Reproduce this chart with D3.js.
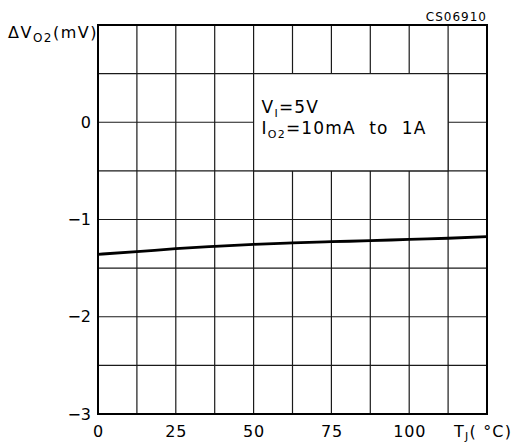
<!DOCTYPE html>
<html>
<head>
<meta charset="utf-8">
<script src="https://cdn.jsdelivr.net/npm/d3@7"></script>
<style>
  html, body { margin: 0; padding: 0; background: #fff; }
  svg text { font-family: "DejaVu Sans", sans-serif; fill: #000; white-space: pre; }
</style>
</head>
<body>
<svg id="chart" width="522" height="443"></svg>
<script>
// Junction temperature (°C) and output voltage change (mV)
const tempC = [0, 12.5, 25, 37.5, 50, 62.5, 75, 87.5, 100, 112.5, 125];
const deltaVo2 = [-1.358, -1.331, -1.300, -1.276, -1.255, -1.240, -1.228, -1.218, -1.204, -1.193, -1.177];

const xTickLabels = [0, 25, 50, 75, 100];
const yTickLabels = [0, -1, -2, -3];
const xGridValues = d3.range(0, 125.01, 12.5);
const yGridValues = d3.range(-3, 1.01, 0.5);

const svg = d3.select("#chart");
const plotLeft = 98, plotRight = 487, plotTop = 25, plotBottom = 414;

const x = d3.scaleLinear().domain([0, 125]).range([plotLeft, plotRight]);
const y = d3.scaleLinear().domain([-3, 1]).range([plotBottom, plotTop]);

// grid
const grid = svg.append("g").attr("stroke", "#1a1a1a").attr("stroke-width", 1.2);
grid.selectAll("line.v").data(xGridValues).join("line")
  .attr("x1", d => x(d)).attr("x2", d => x(d))
  .attr("y1", plotTop).attr("y2", plotBottom);
grid.selectAll("line.h").data(yGridValues).join("line")
  .attr("x1", plotLeft).attr("x2", plotRight)
  .attr("y1", d => y(d)).attr("y2", d => y(d));

// condition box blanks out the grid inside it
const box = svg.append("g");
box.append("rect")
  .attr("x", x(50)).attr("y", y(0.5))
  .attr("width", x(112.5) - x(50)).attr("height", y(-0.5) - y(0.5))
  .attr("fill", "#fff").attr("stroke", "#1a1a1a").attr("stroke-width", 1.2);

const t1 = box.append("text").attr("x", x(50) + 8).attr("y", 113)
  .attr("font-size", 17).attr("letter-spacing", 1.2);
t1.append("tspan").text("V");
t1.append("tspan").attr("font-size", 11).attr("dy", 4).text("I");
t1.append("tspan").attr("dy", -4).text("=5V");

const t2 = box.append("text").attr("x", x(50) + 8).attr("y", 134)
  .attr("font-size", 17).attr("letter-spacing", 1.2);
t2.append("tspan").text("I");
t2.append("tspan").attr("font-size", 11).attr("dy", 4).text("O2");
t2.append("tspan").attr("dy", -4).text("=10mA  to  1A");

// frame
svg.append("rect")
  .attr("x", plotLeft).attr("y", plotTop)
  .attr("width", plotRight - plotLeft).attr("height", plotBottom - plotTop)
  .attr("fill", "none").attr("stroke", "#000").attr("stroke-width", 2);

// curve
const line = d3.line().x((d, i) => x(tempC[i])).y(d => y(d)).curve(d3.curveMonotoneX);
svg.append("path")
  .datum(deltaVo2)
  .attr("d", line)
  .attr("fill", "none").attr("stroke", "#000").attr("stroke-width", 2.8);

// axes (labels only; the grid already provides the lines)
const xAxis = d3.axisBottom(x).tickValues(xTickLabels).tickSize(0).tickPadding(12).tickFormat(d3.format("d"));
const gx = svg.append("g").attr("transform", `translate(0,${plotBottom})`).call(xAxis);
gx.select(".domain").remove();
gx.selectAll("text").attr("font-size", 16).attr("font-family", "DejaVu Sans")
  .attr("letter-spacing", 0.8).attr("fill", "#000");

const yAxis = d3.axisLeft(y).tickValues(yTickLabels).tickSize(0).tickPadding(7)
  .tickFormat(d => d < 0 ? "\u2212" + Math.abs(d) : String(d));
const gy = svg.append("g").attr("transform", `translate(${plotLeft},0)`).call(yAxis);
gy.select(".domain").remove();
gy.selectAll("text").attr("font-size", 16).attr("font-family", "DejaVu Sans").attr("fill", "#000");

// axis titles
const yt = svg.append("text").attr("x", 8).attr("y", 38).attr("font-size", 16).attr("letter-spacing", 1.5);
yt.append("tspan").text("\u0394V");
yt.append("tspan").attr("font-size", 12).attr("dy", 4).text("O2");
yt.append("tspan").attr("dy", -4).text("(mV)");

const xt = svg.append("text").attr("x", 454).attr("y", 437).attr("font-size", 16).attr("letter-spacing", 1.2);
xt.append("tspan").text("T");
xt.append("tspan").attr("font-size", 11).attr("dy", 3).text("J");
xt.append("tspan").attr("dy", -3).text("( \u00B0C)");

svg.append("text").attr("x", plotRight).attr("y", 21).attr("text-anchor", "end")
  .attr("font-size", 12).attr("letter-spacing", 1).text("CS06910");
</script>
</body>
</html>
